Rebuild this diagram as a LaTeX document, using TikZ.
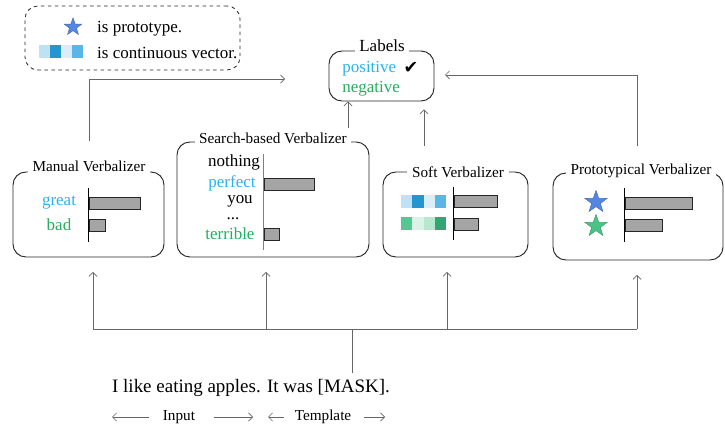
\documentclass[tikz,border=0pt]{standalone}
\usepackage{fontspec}
\setmainfont{Liberation Serif}
\newfontfamily\symbolfont{DejaVu Sans}
\usetikzlibrary{positioning, arrows.meta, shapes.geometric, fit}

\definecolor{poscolor}{RGB}{40,180,235}
\definecolor{negcolor}{RGB}{35,175,95}
\definecolor{bargray}{RGB}{165,165,165}
\definecolor{starblue}{RGB}{85,135,225}
\definecolor{stargreen}{RGB}{75,195,135}
\definecolor{bluea}{RGB}{190,226,245}
\definecolor{blueb}{RGB}{35,150,210}
\definecolor{bluec}{RGB}{218,237,248}
\definecolor{blued}{RGB}{90,182,230}
\definecolor{greena}{RGB}{85,200,145}
\definecolor{greenb}{RGB}{218,242,232}
\definecolor{greenc}{RGB}{182,232,208}
\definecolor{greend}{RGB}{50,165,112}

\begin{document}
\begin{tikzpicture}[x=0.03cm, y=-0.03cm,
    font=\fontsize{13}{15}\selectfont,
    >={Straight Barb[length=3.5pt,width=7pt]},
    verbbox/.style={draw=black!85, line width=0.8pt, rounded corners=11pt, inner sep=0pt},
    boxtitle/.style={fill=white, inner xsep=4pt, inner ysep=1pt},
    word/.style={font=\fontsize{14.5}{16}\selectfont, inner sep=1pt},
    conn/.style={->, draw=black!60, line width=0.6pt},
    wire/.style={draw=black!60, line width=0.6pt},
    bar/.style={draw=black!85, fill=bargray, line width=0.7pt},
    axisline/.style={draw=black, line width=0.8pt},
    protostar/.style={star, star points=5, star point ratio=2.5, inner sep=0pt, minimum size=0.7cm, line width=0.4pt},
  ]
  \useasboundingbox (0,0) rectangle (725,428);

  % Legend
  \node[verbbox, dashed, line width=0.7pt, fit={(25,6) (240,70)}] (legend) {};
  \node[protostar, minimum size=0.55cm, fill=starblue, draw=starblue!80!black] (legstar) at (73,27) {};
  \node[word, anchor=west, inner sep=0pt] (legproto) at (97,29) {is prototype.};
  \foreach \c [count=\i from 0] in {bluea,blueb,bluec,blued}
    \fill[\c] (39+11*\i,45) rectangle ++(11,13);
  \node[word, anchor=west, inner sep=0pt] (legvector) at (97,53) {is continuous vector.};

  % Labels
  \node[verbbox, fit={(329,51) (434,101)}] (labels) {};
  \node[boxtitle, font=\fontsize{14.5}{16}\selectfont] (labtitle) at (382,46) {Labels};
  \node[word, anchor=west, text=poscolor] (positive) at (341,69) {positive};
  \node[inner sep=0pt] (check) at (411,68) {\symbolfont\fontsize{15}{15}\selectfont ✔};
  \node[word, anchor=west, text=negcolor] (negative) at (341,89) {negative};

  % Manual verbalizer
  \node[verbbox, fit={(13,172) (164,257)}] (manual) {};
  \node[boxtitle] (mantitle) at (89,166) {Manual Verbalizer};
  \node[word, text=poscolor] (great) at (59,203) {great};
  \node[word, text=negcolor] (bad) at (59,225) {bad};
  \draw[axisline] (88,188) -- (88,242);
  \draw[bar] (89,197) rectangle (140,209);
  \draw[bar] (89,219) rectangle (105,231);

  % Search-based verbalizer
  \node[verbbox, fit={(177,142) (369,257)}] (search) {};
  \node[boxtitle] (searchtitle) at (273,138) {Search-based Verbalizer};
  \node[word] (nothing) at (234,162) {nothing};
  \node[word, text=poscolor] (perfect) at (232,183) {perfect};
  \node[word] (you) at (240,201) {you};
  \node[word, inner sep=0pt] (dots) at (233,219) {...};
  \node[word, text=negcolor] (terrible) at (230,234) {terrible};
  \draw[axisline, draw=black!50] (263,154) -- (263,250);
  \draw[bar] (264,178) rectangle (314,190);
  \draw[bar] (264,228) rectangle (279,240);

  % Soft verbalizer
  \node[verbbox, fit={(383,172) (528,257)}] (soft) {};
  \node[boxtitle] (softtitle) at (458,172) {Soft Verbalizer};
  \foreach \c [count=\i from 0] in {bluea,blueb,bluec,blued}
    \fill[\c] (401+11.25*\i,195) rectangle ++(11.25,13);
  \foreach \c [count=\i from 0] in {greena,greenb,greenc,greend}
    \fill[\c] (401+11.25*\i,217) rectangle ++(11.25,13);
  \draw[axisline] (453,187) -- (453,240);
  \draw[bar] (454,195) rectangle (497,207);
  \draw[bar] (454,218) rectangle (478,230);

  % Prototypical verbalizer
  \node[verbbox, fit={(553,173) (723,260)}] (proto) {};
  \node[boxtitle] (prototitle) at (641,171) {Prototypical Verbalizer};
  \node[protostar, fill=starblue, draw=starblue!80!black] (starpos) at (596,202) {};
  \node[protostar, fill=stargreen, draw=stargreen!80!black] (starneg) at (596,226) {};
  \draw[axisline] (624,188) -- (624,242);
  \draw[bar] (625,197) rectangle (692,209);
  \draw[bar] (625,219) rectangle (662,231);

  % Outputs to labels
  \coordinate (mantip) at (285,79);
  \coordinate (searchout) at (348,128);
  \coordinate (softout) at (424,146);
  \coordinate (protoout) at (637,146);
  \coordinate (prototip) at (445,75);
  \draw[conn, shorten <=0.55cm] (mantitle.north) |- (mantip);
  \draw[conn] (searchout) -- (searchout |- labels.south);
  \draw[conn, shorten >=0.24cm] (softout) -- (softout |- labels.south);
  \draw[conn] (protoout) |- (prototip);

  % Sentence and bus
  \node[font=\fontsize{16.2}{18}\selectfont, anchor=west] (sentence) at (108,388) {I like eating apples. It was [MASK].};
  \coordinate (joint) at (352,329);
  \coordinate (sentin) at (352,373);
  \coordinate (busl) at (93,329);
  \coordinate (busr) at (637,329);
  \draw[wire] (busl) -- (busr);
  \draw[wire] (sentin) -- (joint);
  \foreach \b/\xx in {manual/93, search/266, soft/447, proto/637}
    \draw[conn, shorten >=0.43cm] (\xx,329) -- (\b.south -| \xx,0);

  % Input / template span
  \node (input) at (179,417) {Input};
  \node (template) at (323,417) {Template};
  \coordinate (inl) at (112,417);
  \coordinate (inr) at (253,417);
  \coordinate (tpl) at (268,417);
  \coordinate (tpr) at (385,417);
  \draw[conn, shorten <=0.3cm] (input) -- (inl);
  \draw[conn, shorten <=0.45cm] (input) -- (inr);
  \draw[conn, shorten <=0.2cm] (template) -- (tpl);
  \draw[conn, shorten <=0.25cm] (template) -- (tpr);
\end{tikzpicture}
\end{document}
